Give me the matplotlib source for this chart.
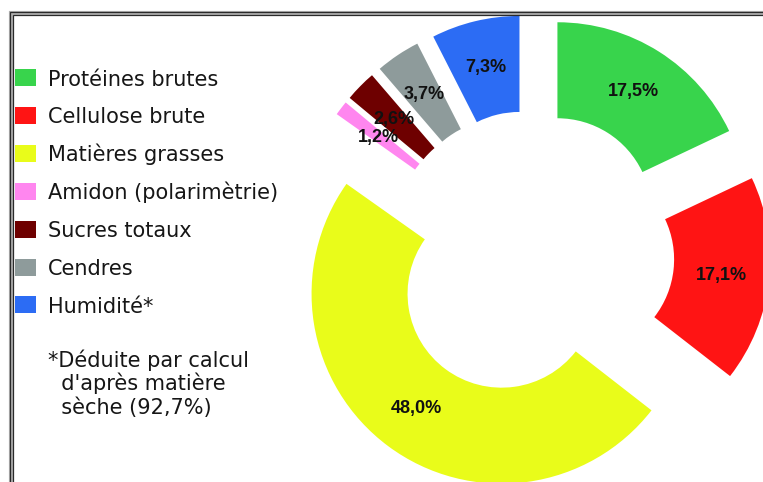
import matplotlib.pyplot as plt
from matplotlib.patches import Rectangle

# composition (%)
categories = ['Protéines brutes', 'Cellulose brute', 'Matières grasses',
              'Amidon (polarimètrie)', 'Sucres totaux', 'Cendres', 'Humidité*']
values = [17.5, 17.1, 48.0, 1.2, 2.6, 3.7, 7.3]
colors = ['#38d44c', '#ff1414', '#e9fc1a', '#ff86ef', '#6e0000', '#8e9b9b', '#2c6cf4']
footnote = ['*Déduite par calcul', "  d'après matière", '  sèche (92,7%)']

W, H = 763, 482
fig = plt.figure(figsize=(W / 100, H / 100), dpi=100)
fig.patch.set_facecolor('white')

# donut, in units of the outer radius (190 px)
R = 190.0
cx, cy = 531, 254
ax = fig.add_axes([0, 0, 1, 1])
pct = iter(values)
wedges, texts, autotexts = ax.pie(
    values, colors=colors, startangle=90, counterclock=False,
    explode=[0.26] * len(values), radius=1.0,
    wedgeprops=dict(width=96 / R, linewidth=0),
    autopct=lambda p: f"{next(pct):.1f}%".replace('.', ','),
    pctdistance=0.75,
    textprops=dict(fontsize=13, fontweight='bold', color='#111111',
                   family='Liberation Sans'))
ax.set_xlim(-cx / R, (W - cx) / R)
ax.set_ylim(-(H - cy) / R, cy / R)
ax.set_aspect('auto')
ax.axis('off')

# overlay in pixel coordinates for frame and legend
ov = fig.add_axes([0, 0, 1, 1], facecolor='none')
ov.set_xlim(0, W)
ov.set_ylim(H, 0)
ov.axis('off')

# double frame line (top and left)
ov.plot([11, 11, W], [H, 13, 13], color='#b0b0b0', lw=3.0, solid_joinstyle='miter')
ov.plot([9.5, 9.5, W], [H, 11.5, 11.5], color='#2a2a2a', lw=0.9, solid_joinstyle='miter')
ov.plot([12.5, 12.5, W], [H, 14.5, 14.5], color='#2a2a2a', lw=0.9, solid_joinstyle='miter')

# legend
for i, (lab, col) in enumerate(zip(categories, colors)):
    yc = 77.5 + 37.9 * i
    ov.add_patch(Rectangle((15, yc - 8.5), 21, 17, facecolor=col, edgecolor='none'))
    ov.text(48, yc + 8, lab, fontsize=15, family='DejaVu Sans', color='#161616',
            va='baseline', ha='left')

for j, line in enumerate(footnote):
    ov.text(48, 367 + 23.5 * j, line, fontsize=15, family='DejaVu Sans',
            color='#161616', va='baseline', ha='left')

fig.savefig('out.png', dpi=100)
